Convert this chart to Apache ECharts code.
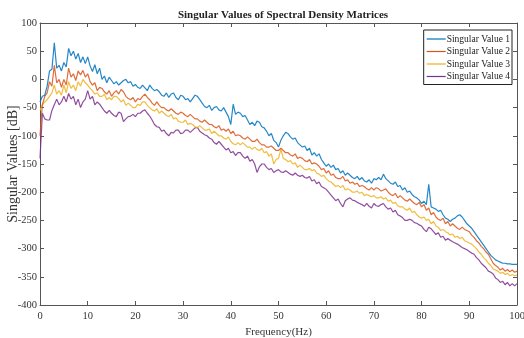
<!DOCTYPE html>
<html>
<head>
<meta charset="utf-8">
<script src="https://cdn.jsdelivr.net/npm/echarts@6/dist/echarts.min.js"></script>
<style>
  html, body { margin: 0; padding: 0; background: #fff; }
  #chart { width: 524px; height: 338px; }
</style>
</head>
<body>
<div id="chart"></div>
<script>
// Frequency grid: 0 to 100 Hz in 0.5 Hz steps
const freqStep = 0.5;
const freqCount = 201;

const seriesNames = ['Singular Value 1', 'Singular Value 2', 'Singular Value 3', 'Singular Value 4'];

// Singular value spectra in dB, one value per frequency bin
const sv1 = [
  -40,-30,-28,-12,15,18,65,20,25,15,
  30,22,55,42,50,36,46,30,40,28,
  40,24,14,26,10,20,0,6,-6,4,
  -2,-8,-4,-10,-6,-2,0,-6,-4,-12,
  -9,-14,-16,-10,-15,-20,-10,-16,-20,-18,
  -22,-28,-30,-24,-32,-26,-24,-32,-36,-28,
  -30,-36,-34,-40,-34,-28,-30,-36,-42,-48,
  -50,-46,-55,-50,-48,-54,-56,-50,-58,-66,
  -80,-44,-62,-58,-60,-66,-64,-72,-80,-76,
  -82,-74,-76,-84,-86,-92,-100,-96,-108,-112,
  -120,-108,-100,-94,-96,-102,-106,-104,-112,-116,
  -120,-118,-126,-122,-134,-130,-136,-132,-142,-148,
  -154,-150,-156,-152,-160,-158,-166,-162,-170,-166,
  -170,-174,-176,-172,-178,-174,-180,-182,-178,-184,
  -176,-178,-174,-178,-168,-176,-180,-184,-186,-182,
  -190,-188,-196,-192,-200,-198,-204,-208,-210,-214,
  -220,-216,-222,-186,-226,-228,-230,-234,-232,-240,
  -246,-248,-252,-248,-246,-242,-240,-244,-250,-256,
  -260,-264,-270,-276,-282,-288,-294,-300,-306,-312,
  -316,-320,-322,-324,-326,-326,-327,-327,-328,-328,
  -328
];
const sv2 = [
  -100,-45,-30,-24,-4,-12,25,-6,0,-14,
  0,-10,20,4,10,-2,15,8,16,4,
  10,-4,-10,-6,-20,-14,-16,-22,-26,-20,
  -30,-24,-20,-26,-18,-22,-30,-34,-36,-32,
  -40,-34,-36,-30,-26,-32,-36,-42,-46,-40,
  -46,-50,-50,-54,-56,-52,-56,-60,-62,-58,
  -60,-64,-66,-62,-66,-70,-70,-74,-76,-72,
  -76,-80,-80,-84,-86,-82,-90,-88,-92,-88,
  -96,-92,-100,-98,-100,-104,-106,-102,-106,-110,
  -110,-106,-112,-116,-116,-120,-120,-118,-122,-126,
  -126,-122,-126,-130,-130,-134,-136,-132,-140,-138,
  -140,-144,-146,-142,-150,-148,-150,-154,-160,-158,
  -166,-162,-170,-168,-174,-176,-176,-172,-180,-178,
  -184,-182,-186,-184,-190,-188,-190,-194,-196,-192,
  -196,-192,-194,-198,-196,-194,-200,-204,-206,-202,
  -210,-206,-210,-214,-216,-212,-216,-220,-222,-218,
  -226,-222,-232,-228,-240,-236,-244,-248,-250,-246,
  -256,-252,-260,-256,-260,-264,-266,-262,-266,-268,
  -270,-276,-280,-286,-290,-296,-300,-306,-310,-318,
  -326,-330,-333,-338,-335,-340,-337,-341,-338,-342,
  -340
];
const sv3 = [
  -55,-45,-40,-36,-30,-24,-10,-26,-20,-28,
  -10,-24,-4,-16,-10,-20,-4,-12,0,-6,
  -10,-16,-20,-26,-24,-30,-30,-26,-36,-32,
  -36,-30,-30,-34,-40,-36,-46,-42,-46,-50,
  -50,-44,-46,-40,-40,-46,-50,-54,-56,-52,
  -60,-56,-60,-64,-66,-62,-70,-68,-74,-76,
  -76,-72,-80,-78,-80,-84,-86,-82,-86,-90,
  -90,-88,-96,-92,-96,-100,-100,-104,-106,-102,
  -110,-114,-116,-112,-116,-112,-116,-120,-120,-124,
  -120,-124,-126,-122,-130,-128,-136,-132,-150,-142,
  -140,-124,-140,-142,-146,-144,-150,-148,-156,-152,
  -156,-160,-160,-158,-162,-160,-166,-168,-172,-170,
  -176,-180,-182,-186,-190,-188,-192,-188,-196,-194,
  -196,-200,-200,-198,-202,-200,-206,-204,-206,-208,
  -206,-210,-210,-208,-212,-210,-216,-214,-220,-218,
  -224,-226,-226,-230,-232,-228,-236,-234,-240,-244,
  -246,-244,-250,-248,-256,-252,-260,-262,-268,-266,
  -270,-272,-276,-274,-280,-278,-282,-280,-286,-288,
  -290,-292,-296,-300,-306,-310,-316,-320,-326,-330,
  -336,-338,-340,-344,-342,-346,-344,-348,-346,-348,
  -347
];
const sv4 = [
  -140,-60,-70,-72,-72,-55,-45,-35,-45,-40,
  -30,-40,-25,-35,-30,-45,-35,-50,-40,-35,
  -20,-35,-30,-45,-40,-44,-50,-56,-60,-55,
  -60,-64,-66,-58,-60,-75,-70,-66,-65,-62,
  -66,-60,-60,-56,-54,-60,-65,-72,-80,-84,
  -85,-92,-90,-96,-100,-94,-95,-90,-90,-96,
  -95,-90,-90,-94,-90,-86,-85,-92,-95,-98,
  -100,-104,-106,-112,-115,-110,-115,-120,-125,-122,
  -130,-128,-135,-130,-130,-136,-140,-136,-145,-142,
  -150,-165,-155,-150,-150,-156,-160,-158,-165,-162,
  -160,-164,-165,-162,-165,-168,-170,-166,-170,-172,
  -170,-174,-175,-172,-180,-178,-185,-182,-190,-192,
  -195,-200,-205,-210,-215,-212,-220,-226,-215,-212,
  -210,-214,-215,-218,-220,-222,-225,-220,-225,-228,
  -220,-224,-225,-222,-220,-226,-230,-228,-235,-232,
  -240,-242,-245,-250,-250,-248,-250,-254,-255,-258,
  -260,-266,-270,-262,-265,-270,-275,-272,-280,-278,
  -285,-282,-285,-288,-290,-292,-295,-298,-300,-302,
  -305,-308,-310,-316,-320,-326,-330,-334,-340,-342,
  -345,-352,-355,-360,-358,-364,-360,-366,-362,-366,
  -362
];

const colors = ['#0072BD', '#D95319', '#EDB120', '#7E2F8E'];
const values = [sv1, sv2, sv3, sv4];

const FONT = "'Liberation Serif', 'Times New Roman', serif";
const AXIS_COLOR = '#555';

function pairs(arr) {
  const out = [];
  for (let i = 0; i < freqCount && i < arr.length; i++) out.push([i * freqStep, arr[i]]);
  return out;
}

const chart = echarts.init(document.getElementById('chart'), null, { renderer: 'canvas' });

const boxAxis = {
  axisLine: { show: true, onZero: false, lineStyle: { color: AXIS_COLOR, width: 1 } },
  axisTick: { show: true, inside: true, length: 4, lineStyle: { color: AXIS_COLOR } },
  splitLine: { show: false }
};

chart.setOption({
  animation: false,
  backgroundColor: '#fff',
  title: {
    text: 'Singular Values of Spectral Density Matrices',
    left: 278, top: 5, textAlign: 'center',
    textStyle: { fontFamily: FONT, fontSize: 11, fontWeight: 'bold', color: '#222' }
  },
  legend: {
    data: seriesNames,
    orient: 'vertical',
    right: 12, top: 30,
    icon: 'rect',
    itemWidth: 19, itemHeight: 1.2, itemGap: 2.5,
    padding: [4, 2, 3, 3],
    borderColor: '#222', borderWidth: 1,
    backgroundColor: '#fff',
    textStyle: { fontFamily: FONT, fontSize: 9.5, lineHeight: 10, color: '#222', padding: [0, 0, 0, -4] }
  },
  grid: { left: 40, right: 7, top: 23, bottom: 33, outerBoundsMode: 'none', containLabel: false },
  xAxis: [
    Object.assign({
      type: 'value', min: 0, max: 100, interval: 10,
      name: 'Frequency(Hz)', nameLocation: 'middle', nameGap: 19,
      nameTextStyle: { fontFamily: FONT, fontSize: 11, color: '#333' },
      axisLabel: { fontFamily: FONT, fontSize: 10.5, color: '#333', margin: 6 }
    }, boxAxis),
    Object.assign({
      type: 'value', min: 0, max: 100, interval: 10, position: 'top',
      axisLabel: { show: false }
    }, boxAxis)
  ],
  yAxis: [
    Object.assign({
      type: 'value', min: -400, max: 100, interval: 50,
      name: 'Singular Values [dB]', nameLocation: 'middle', nameGap: 20,
      nameMoveOverlap: false,
      nameTextStyle: { fontFamily: FONT, fontSize: 14, color: '#333' },
      axisLabel: { fontFamily: FONT, fontSize: 10.5, color: '#333', margin: 3 }
    }, boxAxis),
    Object.assign({
      type: 'value', min: -400, max: 100, interval: 50, position: 'right',
      axisLabel: { show: false }
    }, boxAxis)
  ],
  series: seriesNames.map((name, k) => ({
    name: name,
    type: 'line',
    xAxisIndex: 0,
    yAxisIndex: 0,
    data: pairs(values[k]),
    symbol: 'none',
    color: colors[k],
    lineStyle: { width: 1.2, color: colors[k], opacity: 0.85 },
    z: 10 - k
  }))
});
</script>
</body>
</html>
